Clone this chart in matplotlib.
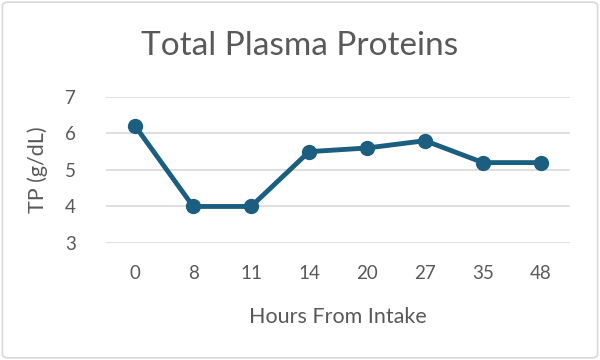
import matplotlib.pyplot as plt
from matplotlib.patches import FancyBboxPatch

hours = ['0', '8', '11', '14', '20', '27', '35', '48']
tp = [6.2, 4.0, 4.0, 5.5, 5.6, 5.8, 5.2, 5.2]
yticks = [3, 4, 5, 6, 7]

plt.rcParams['font.family'] = ['Lato', 'DejaVu Sans']
txt = '#595959'

fig = plt.figure(figsize=(6, 3.6), dpi=100)
ax = fig.add_axes([0.177, 0.325, 0.773, 0.406])

x = range(len(hours))
ax.plot(x, tp, '-o', color='#1b5e80', lw=3.5, ms=10)

ax.set_xlim(-0.5, len(hours) - 0.5)
ax.set_ylim(3, 7)
ax.set_yticks(yticks)
ax.set_xticks(list(x))
ax.set_xticklabels(hours)
ax.grid(axis='y', color='#d9d9d9', lw=1.2)
ax.set_axisbelow(True)
for s in ax.spines.values():
    s.set_visible(False)
ax.tick_params(length=0, labelsize=13.5, colors=txt, pad=16)
ax.tick_params(axis='y', pad=22)

ax.set_ylabel('TP (g/dL)', fontsize=15.5, color=txt, labelpad=12)
ax.set_xlabel('Hours From Intake', fontsize=15.5, color=txt, labelpad=18)
fig.text(0.5, 0.872, 'Total Plasma Proteins', ha='center', va='center', fontsize=24, color=txt)

border = FancyBboxPatch((0.004, 0.006), 0.992, 0.988, boxstyle='round,pad=0,rounding_size=0.01',
                        transform=fig.transFigure, fc='none', ec='#d9d9d9', lw=1.2)
fig.patches.append(border)

fig.savefig('out.png', dpi=100)
